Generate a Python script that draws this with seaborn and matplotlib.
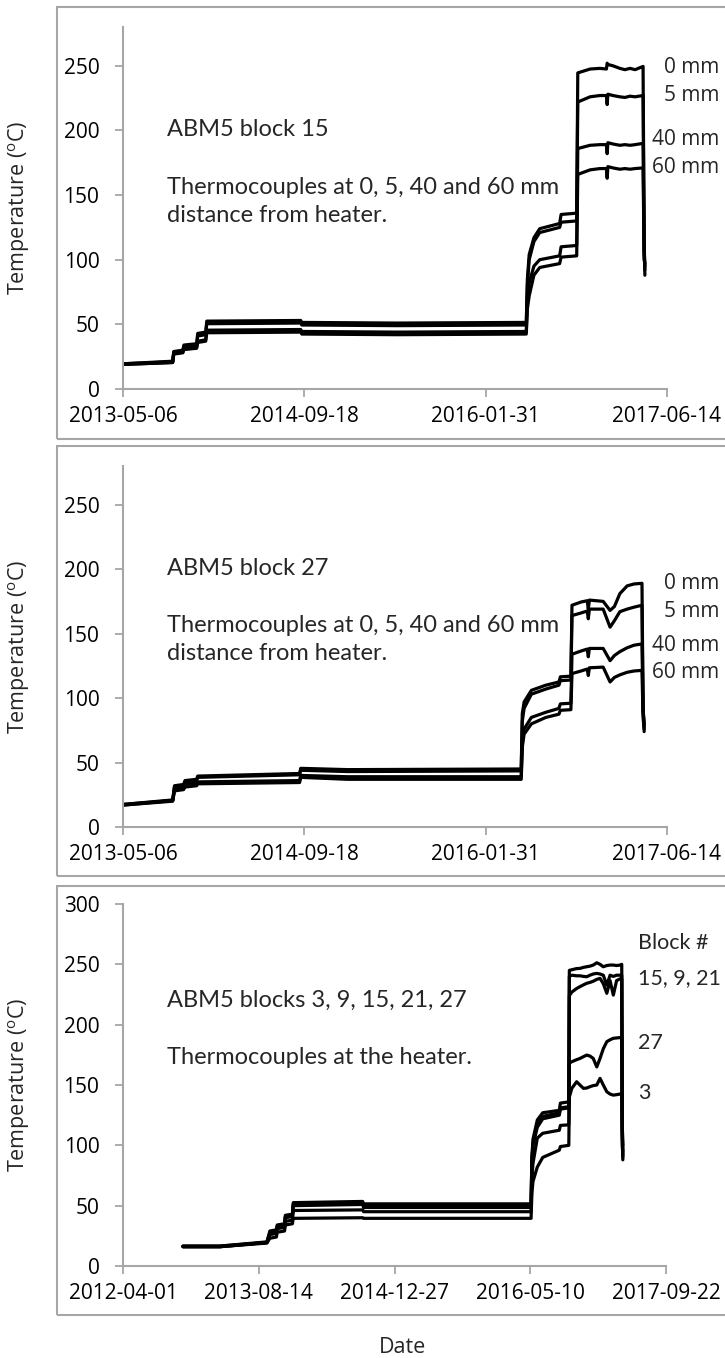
import pandas as pd
import matplotlib
matplotlib.use("Agg")
import matplotlib.pyplot as plt
import matplotlib.transforms as mtransforms
from matplotlib.patches import Rectangle
import seaborn as sns

# ---------------------------------------------------------------- data
# ABM5 block 15, thermocouples at 0, 5, 40 and 60 mm from the heater
B15_DATES = ["2013-05-06", "2013-09-20", "2013-09-23", "2013-10-18", "2013-10-21",
             "2013-11-25", "2013-11-28", "2013-12-20", "2013-12-23", "2014-09-08",
             "2014-09-11", "2015-06-01", "2016-05-22", "2016-05-25", "2016-05-30",
             "2016-06-12", "2016-06-28", "2016-08-22", "2016-08-26", "2016-10-08",
             "2016-10-11", "2016-11-14", "2016-12-11", "2016-12-29", "2016-12-31",
             "2017-01-02", "2017-01-16", "2017-02-04", "2017-02-18", "2017-03-04",
             "2017-03-18", "2017-04-09", "2017-04-12", "2017-04-14"]
B15_0MM = [19.5, 21.5, 29, 30, 34, 35, 43, 44, 52.5, 53, 51.5, 51, 51.5, 85, 104,
           117, 124, 128, 135, 136, 244.5, 247.5, 248, 247.5, 252, 251, 250, 248,
           247, 248, 247, 249.5, 115, 88]
B15_5MM = [19.5, 21, 28.5, 29.5, 33, 34, 41, 42, 50.5, 51, 49.5, 49, 49.5, 80, 100,
           114, 121, 125, 129, 130, 222, 226, 227, 227, 220, 228, 227, 226, 225.5,
           226.5, 226, 227, 110, 92]
B15_40MM = [19, 20.5, 27.5, 28.5, 31, 32, 37, 38, 45.5, 46, 44.5, 44, 44.5, 70, 82,
            95, 100, 103, 110, 111, 186, 188.5, 189, 189, 182, 190.5, 189.5, 188.5,
            189, 188.5, 189, 190, 105, 95]
B15_60MM = [19, 20.5, 27, 28, 30.5, 31.5, 36, 37, 43.5, 44, 42.5, 42, 42.5, 62, 72,
            88, 94, 97, 102, 103, 166, 169.5, 170.5, 170.5, 163, 172, 171, 170,
            170.5, 170, 170.5, 171, 100, 97]

# ABM5 block 27, same thermocouple distances
B27_DATES = ["2013-05-06", "2013-09-20", "2013-09-25", "2013-10-20", "2013-10-24",
             "2013-11-25", "2013-11-28", "2014-09-05", "2014-09-08", "2015-01-15",
             "2016-05-08", "2016-05-11", "2016-05-16", "2016-06-05", "2016-07-15",
             "2016-08-20", "2016-08-24", "2016-09-22", "2016-09-25", "2016-10-20",
             "2016-11-06", "2016-11-09", "2016-11-12", "2016-12-20", "2017-01-08",
             "2017-01-20", "2017-02-04", "2017-02-24", "2017-03-15", "2017-04-06",
             "2017-04-09", "2017-04-12"]
B27_0MM = [17.5, 21, 32, 33, 36, 37, 39.5, 41.5, 45.5, 44.5, 45, 88, 97, 106, 110,
           112.5, 116.5, 117, 172, 174.5, 175.5, 169, 176, 175, 168, 171, 181, 187,
           188.5, 189, 95, 74]
B27_5MM = [17.5, 20.5, 31, 32, 35, 36, 38.5, 40.5, 44, 43, 43.5, 82, 92, 103, 107,
           110, 113.5, 114, 164, 166, 167.5, 161.5, 169, 169, 155, 160, 167, 169,
           170.5, 172, 90, 80]
B27_40MM = [17, 20.5, 29, 30, 33, 34, 35, 36, 40, 39, 39, 66, 76, 85, 89, 92, 95.5,
            96, 134, 136.5, 138, 132, 138.5, 138.5, 129, 133, 136, 139, 141, 142,
            92, 78]
B27_60MM = [17, 20, 28, 29, 31, 32, 33.5, 34.5, 38.5, 37, 37, 62, 72, 80, 85, 87.5,
            90.5, 91, 119, 121, 122.5, 117.5, 123.5, 124, 112.5, 116, 118, 120, 121,
            121.5, 85, 76]

# ABM5 blocks 3, 9, 15, 21, 27, thermocouples at the heater
HEATER_DATES = ["2012-11-08", "2013-03-24", "2013-09-13", "2013-09-24", "2013-10-18",
                "2013-10-21", "2013-11-17", "2013-11-20", "2013-12-16", "2013-12-19",
                "2014-09-01", "2014-09-04", "2016-05-13", "2016-05-16", "2016-05-20",
                "2016-06-05", "2016-06-25", "2016-08-25", "2016-08-29", "2016-09-29",
                "2016-10-01", "2016-10-10", "2016-10-28", "2016-11-09", "2016-11-22",
                "2016-12-04", "2016-12-16", "2016-12-28", "2017-01-10", "2017-01-22",
                "2017-02-03", "2017-02-16", "2017-02-28", "2017-03-12", "2017-03-24",
                "2017-04-06", "2017-04-12", "2017-04-14", "2017-04-16"]
HEATER_B3 = [16, 16, 19, 23, 24, 28, 29, 34, 35, 39.5, 40, 39.5, 39.5, 60, 70, 82, 90,
             96, 99, 100, 140, 147.2, 152.7, 150, 147.2, 147.5, 148.6, 149.5, 150,
             155.5, 150, 144.4, 142.5, 141.6, 142, 142.5, 143, 105, 88]
HEATER_B9 = [16, 16, 19.5, 27, 28, 33, 34, 41, 42, 51, 52, 50, 50, 88, 102, 117, 124,
             127, 131, 132, 240, 241, 240.5, 240.5, 240, 239.7, 241, 242, 242.5, 242,
             241, 232.8, 241, 240, 241, 241, 241, 110, 95]
HEATER_B15 = [16.5, 16.5, 20, 29, 30, 34, 35, 42, 43, 52.5, 53.5, 51.5, 51.5, 90, 105,
              121, 127, 129, 135, 136, 245, 245.5, 246.5, 246.6, 247.5, 248, 248.5,
              249.4, 251.3, 250, 248, 249, 249.4, 249.4, 249, 249.4, 250, 120, 90]
HEATER_B21 = [16, 16, 19.5, 27, 28, 32, 33, 40, 41, 50, 51, 48.5, 48.5, 85, 100, 115,
              122, 125, 130, 131, 224, 227, 230, 231.5, 233, 234.3, 235, 236, 237.5,
              238.4, 234, 226, 236.5, 224.5, 236.5, 238, 238, 115, 100]
HEATER_B27 = [16.5, 16.5, 19.5, 26, 27, 31, 32, 37, 38, 46, 46.5, 45, 45, 72, 85, 106,
              110, 112.5, 116.5, 117, 168, 169.3, 171, 172, 173.5, 174.8, 174, 172,
              165, 172, 180, 185.9, 187.5, 188.7, 189, 189.3, 189.5, 100, 92]

TICKS_BLOCK = ["2013-05-06", "2014-09-18", "2016-01-31", "2017-06-14"]
TICKS_HEATER = ["2012-04-01", "2013-08-14", "2014-12-27", "2016-05-10", "2017-09-22"]

DIST_LABELS = ["0 mm", "5 mm", "40 mm", "60 mm"]
B15_LABEL_Y = [249, 227, 193, 171]
B27_LABEL_Y = [189, 167, 141, 120]
BLOCK_LABELS = ["Block #", "15, 9, 21", "27", "3"]
BLOCK_LABEL_Y = [267.6, 239, 185, 143]


def long_frame(dates, series):
    parts = []
    for name, vals in series.items():
        parts.append(pd.DataFrame({"date": pd.to_datetime(dates),
                                   "temp": vals, "series": name}))
    return pd.concat(parts, ignore_index=True)


# ---------------------------------------------------------------- style
sns.set_theme(style="ticks")
plt.rcParams["font.family"] = ["Open Sans", "DejaVu Sans"]
plt.rcParams["mathtext.fontset"] = "custom"
plt.rcParams["mathtext.rm"] = "Open Sans"

W, H = 725, 1358
GRAY = "#a6a6a6"
SANS = ["Open Sans", "DejaVu Sans"]
NOTE_FONT = ["Lato", "DejaVu Sans"]
TICK_SIZE = 15
LABEL_SIZE = 15.5
NOTE_SIZE = 17
SIDE_SIZE = 15.5

fig = plt.figure(figsize=(W / 100, H / 100), dpi=100)


def add_panel(box_top, box_bottom, ax_top, ax_bottom, ax_right):
    fig.add_artist(Rectangle((57 / W, 1 - box_bottom / H), (730 - 57) / W,
                             (box_bottom - box_top) / H, transform=fig.transFigure,
                             fill=False, edgecolor=GRAY, linewidth=1.5))
    return fig.add_axes([123 / W, 1 - ax_bottom / H, (ax_right - 123) / W,
                         (ax_bottom - ax_top) / H])


panels = [
    dict(ax=add_panel(7, 439, 27, 389, 667),
         df=long_frame(B15_DATES, {"0 mm": B15_0MM, "5 mm": B15_5MM,
                                   "40 mm": B15_40MM, "60 mm": B15_60MM}),
         ticks=TICKS_BLOCK, ylim=280, yticks=range(0, 251, 50),
         notes=[("ABM5 block 15", 200.5),
                ("Thermocouples at 0, 5, 40 and 60 mm", 156),
                ("distance from heater.", 134.5)],
         side=(DIST_LABELS, B15_LABEL_Y, 1.0956, "right", SANS, TICK_SIZE)),
    dict(ax=add_panel(446, 876, 466, 827, 667),
         df=long_frame(B27_DATES, {"0 mm": B27_0MM, "5 mm": B27_5MM,
                                   "40 mm": B27_40MM, "60 mm": B27_60MM}),
         ticks=TICKS_BLOCK, ylim=280, yticks=range(0, 251, 50),
         notes=[("ABM5 block 27", 200.5),
                ("Thermocouples at 0, 5, 40 and 60 mm", 156),
                ("distance from heater.", 134.5)],
         side=(DIST_LABELS, B27_LABEL_Y, 1.0956, "right", SANS, TICK_SIZE)),
    dict(ax=add_panel(886, 1315, 904, 1266, 666),
         df=long_frame(HEATER_DATES, {"3": HEATER_B3, "9": HEATER_B9,
                                      "15": HEATER_B15, "21": HEATER_B21,
                                      "27": HEATER_B27}),
         ticks=TICKS_HEATER, ylim=300, yticks=range(0, 301, 50),
         notes=[("ABM5 blocks 3, 9, 15, 21, 27", 220.4),
                ("Thermocouples at the heater.", 173.2)],
         side=(BLOCK_LABELS, BLOCK_LABEL_Y, 0.948, "left", NOTE_FONT, SIDE_SIZE)),
]

for p in panels:
    ax = p["ax"]
    sns.lineplot(data=p["df"], x="date", y="temp", units="series",
                 estimator=None, color="black", linewidth=2.3, legend=False,
                 ax=ax, solid_joinstyle="round")
    tick_dates = pd.to_datetime(p["ticks"])
    ax.set_xlim(tick_dates[0], tick_dates[-1])
    ax.set_xticks(tick_dates)
    ax.set_xticklabels(p["ticks"])
    ax.set_ylim(0, p["ylim"])
    ax.set_yticks(list(p["yticks"]))
    sns.despine(ax=ax)
    for side in ("left", "bottom"):
        ax.spines[side].set_color(GRAY)
        ax.spines[side].set_linewidth(1.5)
    ax.tick_params(axis="both", direction="out", length=6, width=1.3,
                   color=GRAY, labelsize=TICK_SIZE, labelcolor="black")
    ax.tick_params(axis="x", pad=6)
    ax.tick_params(axis="y", pad=11)
    ax.set_xlabel("")
    ax.set_ylabel("Temperature ($^{\\mathrm{o}}$C)", fontsize=LABEL_SIZE)
    ax.yaxis.set_label_coords(-0.191, 0.5)
    ax.yaxis.label.set_verticalalignment("center")

    blend = mtransforms.blended_transform_factory(ax.transAxes, ax.transData)
    for text, y in p["notes"]:
        ax.text(0.081, y, text, transform=blend, ha="left", va="center",
                fontsize=NOTE_SIZE, family=NOTE_FONT)
    labels, ys, x, ha, fam, size = p["side"]
    for text, y in zip(labels, ys):
        ax.text(x, y, text, transform=blend, ha=ha, va="center",
                fontsize=size, family=fam)

last = panels[-1]["ax"]
last.set_xlabel("Date", fontsize=LABEL_SIZE)
last.xaxis.set_label_coords(0.514, -0.224)
last.xaxis.label.set_verticalalignment("center")

fig.savefig("out.png", dpi=100, facecolor="white")
